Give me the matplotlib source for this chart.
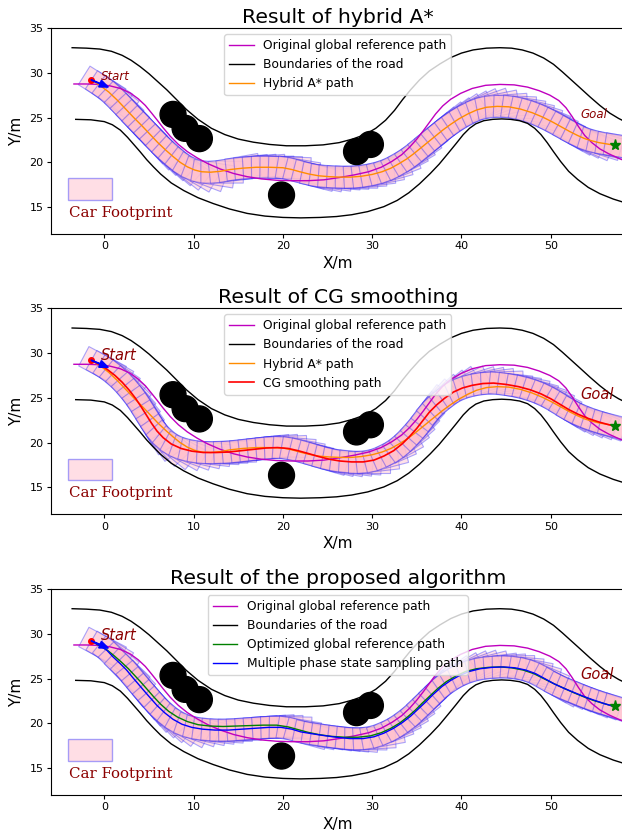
import numpy as np
import matplotlib
matplotlib.use("Agg")
import matplotlib.pyplot as plt
from matplotlib.patches import Rectangle, Circle
from matplotlib.collections import PatchCollection

# ---------------- road geometry ----------------
center_x = [-3.4, -2.0, -0.5, 0.6, 1.8, 2.9, 3.8, 4.6, 5.3, 5.9, 6.6, 7.4, 8.3, 9.3, 10.4,
            11.6, 13.0, 14.5, 16.0, 17.6, 19.3, 21.0, 22.8, 24.6, 26.3, 28.0, 29.6, 31.0,
            32.2, 33.3, 34.2, 35.0, 35.7, 36.4, 37.1, 37.9, 38.8, 39.9, 41.2, 42.7, 44.3,
            45.9, 47.4, 48.7, 49.9, 50.9, 51.7, 52.4, 53.1, 53.8, 54.6, 55.5, 56.5, 57.6, 58.6]
center_y = [28.75, 28.75, 28.7, 28.55, 28.25, 27.75, 27.1, 26.35, 25.5, 24.75, 23.85, 22.9,
            22.0, 21.2, 20.5, 19.85, 19.25, 18.75, 18.4, 18.15, 18.0, 17.95, 17.95, 18.05,
            18.3, 18.6, 18.95, 19.45, 20.1, 20.85, 21.7, 22.6, 23.5, 24.45, 25.4, 26.3, 27.05,
            27.7, 28.25, 28.6, 28.7, 28.65, 28.4, 28.0, 27.5, 26.9, 26.1, 25.1, 24.0, 23.0,
            22.2, 21.5, 20.95, 20.45, 20.05]

upper_x = [-3.6, -2.0, -0.5, 0.8, 2.0, 3.0, 4.0, 5.0, 6.0, 7.0, 8.0, 9.2, 10.5, 12.0, 13.5,
           15.0, 16.7, 18.5, 20.4, 22.5, 24.5, 26.3, 27.8, 29.2, 30.4, 31.5, 32.5, 33.4, 34.3,
           35.3, 36.4, 37.6, 38.8, 40.0, 41.3, 42.8, 44.3, 45.6, 46.8, 48.0, 49.2, 50.3, 51.3,
           52.3, 53.3, 54.4, 55.5, 56.6, 57.6, 58.6]
upper_y = [32.8, 32.75, 32.65, 32.4, 31.95, 31.4, 30.7, 29.9, 29.0, 28.1, 27.1, 25.9, 24.8,
           23.8, 23.1, 22.6, 22.25, 22.0, 21.85, 21.85, 21.95, 22.2, 22.6, 23.1, 23.8, 24.7,
           25.8, 27.0, 28.1, 29.2, 30.2, 31.0, 31.7, 32.2, 32.55, 32.75, 32.8, 32.75, 32.55,
           32.2, 31.65, 30.95, 30.1, 29.2, 28.3, 27.3, 26.35, 25.5, 24.9, 24.4]

lower_x = [-3.2, -1.5, 0.0, 0.9, 1.8, 2.6, 3.3, 4.0, 4.75, 5.5, 6.3, 7.5, 8.9, 10.5, 12.2,
           14.0, 16.0, 18.0, 20.0, 22.0, 24.2, 26.0, 27.7, 29.5, 31.3, 32.8, 34.1, 35.3, 36.5,
           37.5, 38.5, 39.4, 40.2, 40.9, 41.6, 42.5, 43.5, 44.5, 45.5, 46.5, 47.4, 48.2, 48.9,
           49.6, 50.3, 51.1, 52.0, 53.0, 54.2, 55.5, 57.0, 58.6]
lower_y = [24.8, 24.75, 24.55, 24.2, 23.6, 22.8, 22.0, 21.2, 20.3, 19.5, 18.7, 17.7, 16.85,
           16.05, 15.4, 14.8, 14.3, 14.0, 13.85, 13.8, 13.85, 13.95, 14.15, 14.5, 15.05, 15.75,
           16.6, 17.6, 18.75, 19.8, 21.0, 22.1, 23.1, 23.8, 24.3, 24.65, 24.8, 24.85, 24.8,
           24.65, 24.35, 23.8, 23.1, 22.2, 21.2, 20.1, 19.0, 18.1, 17.2, 16.5, 15.9, 15.4]

# ---------------- planned paths ----------------
hybrid_x = [-1.45, -0.5, 0.5, 1.5, 2.4, 3.3, 4.2, 5.1, 6.0, 6.9, 7.7, 8.5, 9.3, 10.1, 10.9,
            11.9, 13.0, 14.1, 15.5, 17.0, 18.5, 20.0, 21.0, 21.9, 22.9, 24.0, 25.2, 26.4, 27.6,
            28.8, 30.0, 31.1, 32.1, 33.0, 33.9, 34.7, 35.5, 36.3, 37.1, 37.9, 38.8, 39.7, 40.7,
            41.7, 42.8, 44.0, 45.3, 46.6, 47.9, 49.1, 50.2, 51.2, 52.1, 53.0, 53.8, 54.6, 55.4,
            56.3, 57.2]
hybrid_y = [29.2, 28.6, 27.85, 26.9, 25.95, 25.0, 24.1, 23.15, 22.2, 21.35, 20.65, 20.0, 19.5,
            19.15, 18.95, 18.9, 19.0, 19.2, 19.35, 19.45, 19.45, 19.4, 19.2, 18.95, 18.7, 18.5,
            18.4, 18.35, 18.35, 18.45, 18.65, 18.95, 19.35, 19.85, 20.4, 21.0, 21.65, 22.3,
            22.95, 23.6, 24.25, 24.85, 25.4, 25.85, 26.15, 26.25, 26.2, 25.95, 25.55, 25.05,
            24.5, 23.95, 23.45, 23.0, 22.65, 22.4, 22.2, 22.05, 21.9]

cg_x = [-1.45, -0.6, 0.3, 1.2, 2.0, 2.8, 3.5, 4.1, 4.7, 5.3, 5.9, 6.6, 7.5, 8.6, 9.8, 11.1,
        12.5, 13.9, 15.3, 16.7, 18.1, 19.4, 20.6, 21.7, 22.8, 24.0, 25.2, 26.4, 27.7, 29.0,
        30.2, 31.3, 32.4, 33.4, 34.2, 35.0, 35.7, 36.4, 37.2, 38.1, 39.1, 40.1, 41.2, 42.4,
        43.6, 45.0, 46.4, 47.7, 48.9, 50.0, 51.0, 52.0, 53.1, 54.2, 55.4, 56.5, 57.2]
cg_y = [29.2, 28.75, 28.2, 27.5, 26.75, 25.85, 24.95, 24.05, 23.1, 22.15, 21.3, 20.55, 19.85,
        19.35, 19.05, 18.9, 18.9, 18.95, 19.1, 19.25, 19.4, 19.45, 19.35, 19.1, 18.8, 18.45,
        18.15, 17.95, 17.85, 17.85, 18.05, 18.5, 19.1, 19.9, 20.7, 21.6, 22.5, 23.4, 24.2,
        24.95, 25.65, 26.1, 26.4, 26.6, 26.65, 26.5, 26.25, 25.9, 25.45, 24.9, 24.3, 23.7,
        23.15, 22.7, 22.3, 22.0, 21.85]

opt_x = [-1.45, -0.6, 0.3, 1.1, 1.9, 2.7, 3.4, 4.1, 4.8, 5.5, 6.3, 7.2, 8.2, 9.3, 10.5, 11.8,
         13.3, 14.8, 16.3, 17.8, 19.3, 20.6, 21.7, 22.8, 24.0, 25.4, 26.9, 28.4, 29.8, 31.0,
         32.1, 33.1, 34.0, 34.8, 35.6, 36.4, 37.3, 38.3, 39.4, 40.5, 41.7, 43.0, 44.3, 45.6,
         46.9, 48.1, 49.2, 50.3, 51.4, 52.5, 53.6, 54.8, 56.0, 57.2]
opt_y = [29.2, 28.7, 28.2, 27.55, 26.85, 26.1, 25.35, 24.6, 23.8, 23.0, 22.15, 21.35, 20.7,
         20.2, 19.85, 19.7, 19.65, 19.7, 19.75, 19.8, 19.8, 19.6, 19.3, 19.0, 18.75, 18.55,
         18.45, 18.45, 18.6, 18.95, 19.45, 20.05, 20.75, 21.45, 22.25, 23.0, 23.85, 24.65,
         25.3, 25.8, 26.1, 26.25, 26.3, 26.2, 25.95, 25.55, 25.0, 24.45, 23.95, 23.45, 23.0,
         22.55, 22.2, 21.85]

mpss_x = [-1.45, -0.6, 0.3, 1.0, 1.8, 2.5, 3.2, 3.8, 4.4, 5.1, 5.9, 6.8, 7.7, 8.7, 9.8, 11.0,
          12.4, 13.9, 15.4, 16.9, 18.4, 19.8, 21.0, 22.0, 23.2, 24.5, 26.0, 27.5, 29.0, 30.2,
          31.3, 32.4, 33.4, 34.3, 35.1, 35.9, 36.8, 37.8, 38.8, 39.8, 40.9, 42.1, 43.4, 44.7,
          46.0, 47.2, 48.3, 49.4, 50.4, 51.5, 52.6, 53.7, 54.8, 56.0, 57.2]
mpss_y = [29.2, 28.75, 28.15, 27.4, 26.65, 25.95, 25.1, 24.4, 23.7, 22.9, 22.0, 21.15, 20.45,
          19.9, 19.55, 19.35, 19.25, 19.25, 19.35, 19.45, 19.55, 19.55, 19.35, 19.05, 18.85,
          18.65, 18.45, 18.3, 18.3, 18.5, 18.9, 19.45, 20.1, 20.8, 21.55, 22.3, 23.2, 24.1,
          24.8, 25.35, 25.8, 26.1, 26.25, 26.3, 26.2, 25.95, 25.55, 24.95, 24.4, 23.9, 23.45,
          23.0, 22.6, 22.2, 21.85]

# ---------------- obstacles, start and goal ----------------
obstacle_x = [7.7, 9.05, 10.65, 19.85, 28.25, 29.8]
obstacle_y = [25.35, 23.8, 22.65, 16.35, 21.2, 22.0]
obstacle_r = [1.45, 1.45, 1.45, 1.45, 1.45, 1.45]

start_xy = (-1.45, 29.2)
start_dir = (1.9, -0.8)
goal_xy = (57.2, 21.9)

titles = ["Result of hybrid A*", "Result of CG smoothing", "Result of the proposed algorithm"]

# vehicle footprint geometry (m)
CAR_LEN, CAR_WID, CAR_REAR, POSE_STEP = 4.75, 2.45, 0.95, 0.95


def footprints(px, py):
    """Car rectangles placed every POSE_STEP metres along a path."""
    px = np.asarray(px, float)
    py = np.asarray(py, float)
    s = np.concatenate([[0.0], np.cumsum(np.hypot(np.diff(px), np.diff(py)))])
    sk = np.arange(0.0, s[-1] + 1e-9, POSE_STEP)
    xk, yk = np.interp(sk, s, px), np.interp(sk, s, py)
    xa, ya = np.interp(sk - 0.5, s, px), np.interp(sk - 0.5, s, py)
    xb, yb = np.interp(sk + 0.5, s, px), np.interp(sk + 0.5, s, py)
    th = np.arctan2(yb - ya, xb - xa)
    rects = []
    for x, y, t in zip(xk, yk, th):
        c, sn = np.cos(t), np.sin(t)
        x0 = x - CAR_REAR * c + 0.5 * CAR_WID * sn
        y0 = y - CAR_REAR * sn - 0.5 * CAR_WID * c
        rects.append(Rectangle((x0, y0), CAR_LEN, CAR_WID, angle=np.degrees(t)))
    return PatchCollection(rects, facecolor=(1.0, 0.75, 0.8, 0.45),
                           edgecolor=(0.0, 0.0, 1.0, 0.33), linewidth=0.8, zorder=1)


W, H = 622, 834
fig = plt.figure(figsize=(W / 100, H / 100), dpi=100)
ax_left, ax_right = 50.7, 624.9
tops = [28.0, 308.3, 589.0]
ax_h = 206.0

marker_fs = [8.5, 10.5, 10.5]

for i, top in enumerate(tops):
    ax = fig.add_axes([ax_left / W, (H - top - ax_h) / H, (ax_right - ax_left) / W, ax_h / H])
    ax.set_xlim(-6.0, 58.3)
    ax.set_ylim(12, 35)

    if i == 0:
        fp_path = (hybrid_x, hybrid_y)
    elif i == 1:
        fp_path = (cg_x, cg_y)
    else:
        fp_path = (mpss_x, mpss_y)
    ax.add_collection(footprints(*fp_path))

    ax.plot(center_x, center_y, color='m', lw=1.0, zorder=3,
            label='Original global reference path')
    ax.plot(upper_x, upper_y, color='k', lw=1.0, zorder=3, label='Boundaries of the road')
    ax.plot(lower_x, lower_y, color='k', lw=1.0, zorder=3)
    if i in (0, 1):
        ax.plot(hybrid_x, hybrid_y, color='darkorange', lw=1.0, zorder=3, label='Hybrid A* path')
    if i == 1:
        ax.plot(cg_x, cg_y, color='r', lw=1.2, zorder=3, label='CG smoothing path')
    if i == 2:
        ax.plot(opt_x, opt_y, color='g', lw=1.0, zorder=3,
                label='Optimized global reference path')
        ax.plot(mpss_x, mpss_y, color='b', lw=1.0, zorder=3,
                label='Multiple phase state sampling path')

    for ox, oy, r in zip(obstacle_x, obstacle_y, obstacle_r):
        ax.add_patch(Circle((ox, oy), r, color='k', zorder=5))

    ax.plot(*start_xy, 'o', color='r', ms=4, zorder=6)
    ax.arrow(start_xy[0], start_xy[1], start_dir[0], start_dir[1], color='b', width=0.06,
             head_width=0.8, head_length=1.0, length_includes_head=True, zorder=6)
    ax.plot(*goal_xy, '*', color='g', ms=8, zorder=6)

    ax.text(-0.4, 29.25, 'Start', style='italic', color='darkred', fontsize=marker_fs[i],
            zorder=7)
    ax.text(53.3, 24.9, 'Goal', style='italic', color='darkred', fontsize=marker_fs[i],
            zorder=7)

    # car footprint key
    ax.add_patch(Rectangle((-4.1, 15.8), 4.95, 2.4, facecolor=(1.0, 0.75, 0.8, 0.5),
                           edgecolor=(0.0, 0.0, 1.0, 0.35), lw=1.0, zorder=2))
    ax.text(-4.0, 13.9, 'Car Footprint', family='DejaVu Serif', color='darkred',
            fontsize=10.8, zorder=7)

    ax.set_xticks([0, 10, 20, 30, 40, 50])
    ax.set_yticks([15, 20, 25, 30, 35])
    ax.tick_params(labelsize=8, length=3, pad=2.3)
    ax.set_xlabel('X/m', fontsize=11, labelpad=3)
    ax.set_ylabel('Y/m', fontsize=11, labelpad=4)
    ax.set_title(titles[i], fontsize=14.7, pad=3.5)
    ax.legend(loc='upper center', bbox_to_anchor=(0.5, 1.0), fontsize=8.8)

fig.savefig('out.png', dpi=100)
